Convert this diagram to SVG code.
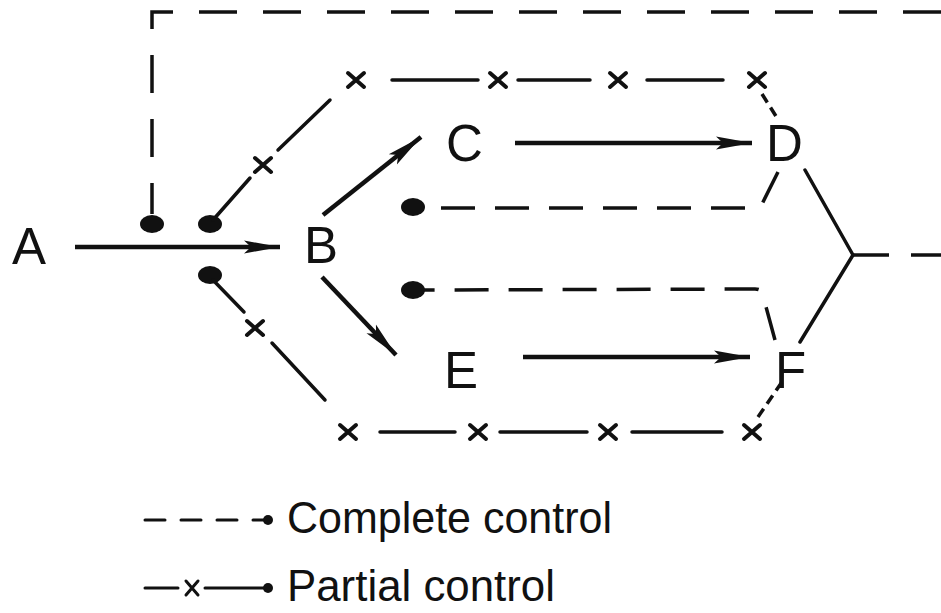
<svg xmlns="http://www.w3.org/2000/svg" width="941" height="613" viewBox="0 0 941 613">
<style>
.lbl{font-family:"Liberation Sans",Arial,sans-serif;font-size:51px;fill:#111}
.leg{font-family:"Liberation Sans",Arial,sans-serif;font-size:44px;fill:#111}
.solid{fill:none;stroke:#111;stroke-width:3.5;stroke-linecap:round}
.dash{fill:none;stroke:#111;stroke-width:3.5;stroke-dasharray:36 22}
.arrow{fill:none;stroke:#111;stroke-width:4.5;marker-end:url(#ah)}
.dot{fill:#111}
.xm{fill:none;stroke:#111;stroke-width:4;stroke-linecap:round}
</style>
<defs>
<marker id="ah" markerUnits="userSpaceOnUse" markerWidth="38" markerHeight="16" refX="36" refY="8" orient="auto">
<path d="M0,1.5 L36,8 L0,14.5 L7,8 z" fill="#111"/>
</marker>
<path id="x" class="xm" d="M-8,-7 L8,7 M-8,7 L8,-7"/>
</defs>
<rect width="941" height="613" fill="#fff"/>

<g id="nodes">
<g id="node-A"><text class="lbl" x="12" y="264">A</text></g>
<g id="node-B"><text class="lbl" x="304" y="263">B</text></g>
<g id="node-C"><text class="lbl" x="446" y="161">C</text></g>
<g id="node-D"><text class="lbl" x="766" y="161">D</text></g>
<g id="node-E"><text class="lbl" x="444" y="388">E</text></g>
<g id="node-F"><text class="lbl" x="775" y="388">F</text></g>
</g>

<g id="connectors">
<!-- main flow -->
<line class="arrow" x1="75" y1="247" x2="280" y2="247"/>
<line class="arrow" x1="323" y1="215" x2="421" y2="137"/>
<line class="arrow" x1="322" y1="277" x2="396" y2="355"/>
<line class="arrow" x1="515" y1="143" x2="752" y2="143"/>
<line class="arrow" x1="523" y1="357" x2="750" y2="357"/>
<!-- D, F to junction -->
<line class="solid" x1="805" y1="170" x2="853" y2="255"/>
<line class="solid" x1="853" y1="255" x2="800" y2="342"/>
<!-- complete control feedback loop -->
<path class="dash" d="M853,255 L941,255"/>
<path class="dash" d="M941,12 L152,12 L152,214" style="stroke-dasharray:38 26"/>
<ellipse class="dot" cx="152" cy="224" rx="12" ry="9"/>
<!-- complete control D -> C -->
<path class="dash" d="M778,172 L762,204 Q759,208 754,208 L422,208" style="stroke-dasharray:34 20"/>
<ellipse class="dot" cx="413" cy="207" rx="12" ry="9"/>
<!-- complete control F -> E -->
<path class="dash" d="M775,340 L762,292 Q760,289 755,289 L422,290" style="stroke-dasharray:34 20"/>
<ellipse class="dot" cx="413" cy="290" rx="12" ry="9"/>
<!-- partial control upper -->
<ellipse class="dot" cx="210" cy="224" rx="12" ry="9"/>
<line class="solid" x1="213" y1="220" x2="250" y2="178"/>
<line class="solid" x1="278" y1="150" x2="330" y2="100"/>
<line class="solid" x1="392" y1="80" x2="478" y2="80"/>
<line class="solid" x1="518" y1="80" x2="590" y2="80"/>
<line class="solid" x1="647" y1="80" x2="723" y2="80"/>
<path class="dash" d="M762,94 L779,121" style="stroke-dasharray:10 6"/>
<use href="#x" x="356" y="80"/>
<use href="#x" x="263" y="165"/>
<use href="#x" x="498" y="80"/>
<use href="#x" x="618" y="80"/>
<use href="#x" x="757" y="80"/>
<!-- partial control lower -->
<ellipse class="dot" cx="210" cy="275" rx="12" ry="9"/>
<line class="solid" x1="213" y1="280" x2="244" y2="312"/>
<line class="solid" x1="272" y1="343" x2="325" y2="400"/>
<line class="solid" x1="380" y1="432" x2="455" y2="432"/>
<line class="solid" x1="500" y1="432" x2="587" y2="432"/>
<line class="solid" x1="632" y1="432" x2="722" y2="432"/>
<path class="dash" d="M758,417 L782,382" style="stroke-dasharray:10 6"/>
<use href="#x" x="255" y="328"/>
<use href="#x" x="348" y="432"/>
<use href="#x" x="478" y="432"/>
<use href="#x" x="608" y="432"/>
<use href="#x" x="752" y="432"/>
</g>

<g id="legend">
<path class="solid" d="M145,520 L165,520 M181,520 L201,520 M217,520 L237,520 M253,520 L268,520" style="stroke-width:3"/>
<circle class="dot" cx="268" cy="520" r="5"/>
<text class="leg" x="287" y="533" textLength="325" lengthAdjust="spacingAndGlyphs">Complete control</text>
<path class="solid" d="M145,588 L178,588 M205,588 L268,588" style="stroke-width:3"/>
<path class="xm" d="M186,581 L198,595 M186,595 L198,581" style="stroke-width:3"/>
<circle class="dot" cx="268" cy="588" r="5"/>
<text class="leg" x="287" y="601" textLength="268" lengthAdjust="spacingAndGlyphs">Partial control</text>
</g>
</svg>
